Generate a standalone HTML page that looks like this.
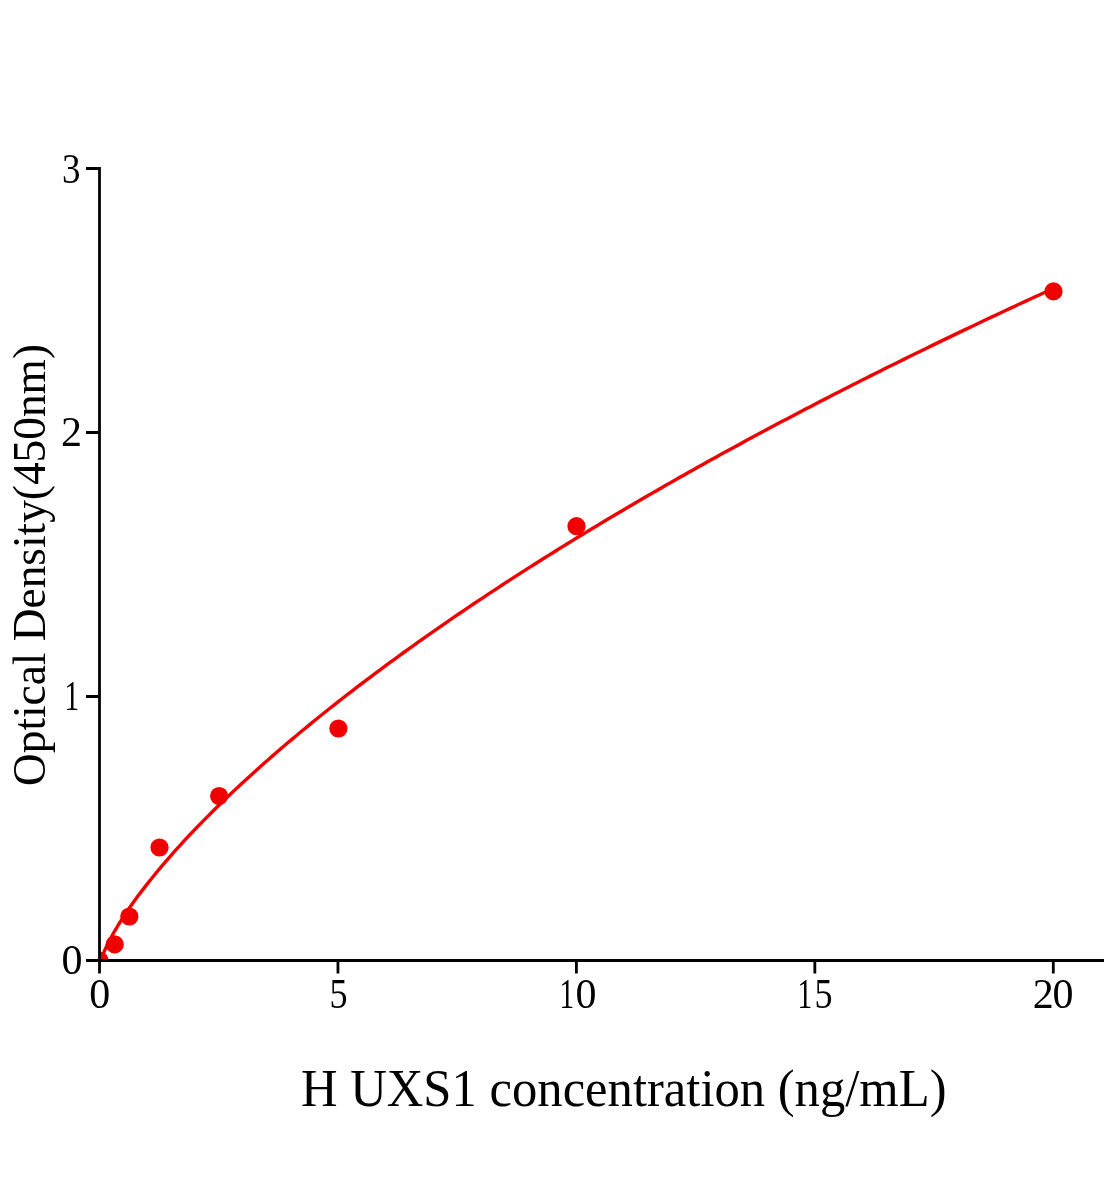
<!DOCTYPE html>
<html><head><meta charset="utf-8"><style>
html,body{margin:0;padding:0;background:#fff;}
body{width:1104px;height:1200px;overflow:hidden;}
svg{display:block;font-family:"Liberation Serif",serif;will-change:transform;}
</style></head><body>
<svg width="1104" height="1200" viewBox="0 0 1104 1200">
<defs><clipPath id="pc"><rect x="99.5" y="0" width="1004.5" height="960.5"/></clipPath></defs>
<g clip-path="url(#pc)">
<polyline points="99.50,966.32 100.11,963.13 100.72,960.95 101.33,959.05 101.95,957.30 102.56,955.66 103.17,954.11 103.78,952.61 104.39,951.18 105.00,949.78 105.61,948.43 106.23,947.11 106.84,945.82 107.45,944.56 108.06,943.32 108.67,942.10 109.28,940.91 109.89,939.73 110.51,938.58 111.12,937.44 111.73,936.31 112.34,935.20 112.95,934.10 113.56,933.02 114.17,931.95 114.79,930.89 115.40,929.84 116.01,928.80 116.62,927.77 117.23,926.75 117.84,925.74 118.45,924.74 119.07,923.75 119.68,922.76 120.29,921.78 120.90,920.82 121.51,919.85 122.12,918.90 122.73,917.95 123.34,917.01 128.02,910.01 132.69,903.32 137.36,896.87 142.04,890.64 146.71,884.60 151.38,878.72 156.06,872.98 160.73,867.37 165.40,861.89 170.08,856.51 174.75,851.24 179.42,846.05 184.10,840.96 188.77,835.94 193.44,831.01 198.12,826.14 202.79,821.34 207.46,816.60 212.13,811.93 216.81,807.31 221.48,802.75 226.15,798.24 230.83,793.78 235.50,789.37 240.17,785.01 244.85,780.69 249.52,776.41 254.19,772.17 258.87,767.98 263.54,763.82 268.21,759.70 272.89,755.61 277.56,751.56 282.23,747.55 286.90,743.56 291.58,739.61 296.25,735.69 300.92,731.80 305.60,727.94 310.27,724.10 314.94,720.30 319.62,716.52 324.29,712.77 328.96,709.04 333.64,705.34 338.31,701.66 342.98,698.01 347.66,694.38 352.33,690.78 357.00,687.19 361.68,683.63 366.35,680.09 371.02,676.57 375.69,673.07 380.37,669.59 385.04,666.14 389.71,662.70 394.39,659.28 399.06,655.88 403.73,652.50 408.41,649.13 413.08,645.79 417.75,642.46 422.43,639.15 427.10,635.85 431.77,632.57 436.45,629.31 441.12,626.07 445.79,622.84 450.46,619.62 455.14,616.43 459.81,613.24 464.48,610.08 469.16,606.92 473.83,603.78 478.50,600.66 483.18,597.55 487.85,594.45 492.52,591.37 497.20,588.30 501.87,585.24 506.54,582.20 511.22,579.17 515.89,576.15 520.56,573.15 525.24,570.16 529.91,567.18 534.58,564.21 539.25,561.26 543.93,558.31 548.60,555.38 553.27,552.46 557.95,549.55 562.62,546.66 567.29,543.77 571.97,540.90 576.64,538.03 581.31,535.18 585.99,532.34 590.66,529.51 595.33,526.69 600.01,523.87 604.68,521.07 609.35,518.28 614.02,515.50 618.70,512.73 623.37,509.97 628.04,507.22 632.72,504.48 637.39,501.75 642.06,499.03 646.74,496.31 651.41,493.61 656.08,490.92 660.76,488.23 665.43,485.55 670.10,482.89 674.78,480.23 679.45,477.58 684.12,474.94 688.80,472.31 693.47,469.68 698.14,467.07 702.81,464.46 707.49,461.86 712.16,459.27 716.83,456.69 721.51,454.11 726.18,451.54 730.85,448.99 735.53,446.44 740.20,443.89 744.87,441.36 749.55,438.83 754.22,436.31 758.89,433.80 763.57,431.29 768.24,428.79 772.91,426.30 777.58,423.82 782.26,421.35 786.93,418.88 791.60,416.42 796.28,413.96 800.95,411.51 805.62,409.07 810.30,406.64 814.97,404.21 819.64,401.79 824.32,399.38 828.99,396.97 833.66,394.57 838.34,392.18 843.01,389.79 847.68,387.41 852.35,385.04 857.03,382.67 861.70,380.31 866.37,377.96 871.05,375.61 875.72,373.27 880.39,370.93 885.07,368.60 889.74,366.28 894.41,363.96 899.09,361.65 903.76,359.35 908.43,357.05 913.11,354.75 917.78,352.46 922.45,350.18 927.13,347.91 931.80,345.64 936.47,343.37 941.14,341.11 945.82,338.86 950.49,336.61 955.16,334.37 959.84,332.13 964.51,329.90 969.18,327.68 973.86,325.46 978.53,323.24 983.20,321.03 987.88,318.83 992.55,316.63 997.22,314.43 1001.90,312.25 1006.57,310.06 1011.24,307.89 1015.91,305.71 1020.59,303.54 1025.26,301.38 1029.93,299.22 1034.61,297.07 1039.28,294.92 1043.95,292.78 1048.63,290.64 1053.30,288.51" fill="none" stroke="#f00000" stroke-width="3.4" stroke-linejoin="round"/>
<g fill="#f00000">
<circle cx="99.5" cy="960.5" r="9.1"/>
<circle cx="114.7" cy="944.4" r="9.1"/>
<circle cx="129.35" cy="916.5" r="9.1"/>
<circle cx="159.5" cy="847.5" r="9.1"/>
<circle cx="219.1" cy="796" r="9.1"/>
<circle cx="338.4" cy="728.5" r="9.1"/>
<circle cx="576.5" cy="526.2" r="9.1"/>
<circle cx="1053.5" cy="291.4" r="9.1"/>
</g>
</g>
<g fill="none" stroke="#000" stroke-width="2.8">
<path d="M99.5,167V962"/>
<path d="M98,960.5H1104"/>
<path d="M86,960.50H99.5M86,696.50H99.5M86,432.50H99.5M86,168.50H99.5M99.50,960.5V973.5M337.95,960.5V973.5M576.40,960.5V973.5M814.85,960.5V973.5M1053.30,960.5V973.5"/>
</g>
<g font-size="42" fill="#000">
<text x="71.9" y="974.3" text-anchor="middle">0</text>
<text transform="translate(71.95,710) scale(0.7,1)" text-anchor="middle">1</text>
<text x="71.6" y="446" text-anchor="middle">2</text>
<text transform="translate(71.2,182.6) scale(0.88,1)" text-anchor="middle">3</text>
<text x="99.75" y="1008.2" text-anchor="middle">0</text>
<text transform="translate(338.5,1008.2) scale(0.86,1)" text-anchor="middle">5</text>
<text transform="translate(566.8,1008.3) scale(0.7,1)" text-anchor="middle">1</text>
<text x="585.9" y="1008.2" text-anchor="middle">0</text>
<text transform="translate(804.85,1008.3) scale(0.7,1)" text-anchor="middle">1</text>
<text transform="translate(823.55,1008.2) scale(0.86,1)" text-anchor="middle">5</text>
<text x="1043.35" y="1008" text-anchor="middle">2</text>
<text x="1062.95" y="1008" text-anchor="middle">0</text>

</g>
<text x="301" y="1106" font-size="53.5" fill="#000" textLength="645.5" lengthAdjust="spacingAndGlyphs">H UXS1 concentration (ng/mL)</text>
<text transform="translate(45.1,786) rotate(-90)" x="0" y="0" font-size="46.5" fill="#000" textLength="442" lengthAdjust="spacingAndGlyphs">Optical Density(450nm)</text>
</svg>
</body></html>
